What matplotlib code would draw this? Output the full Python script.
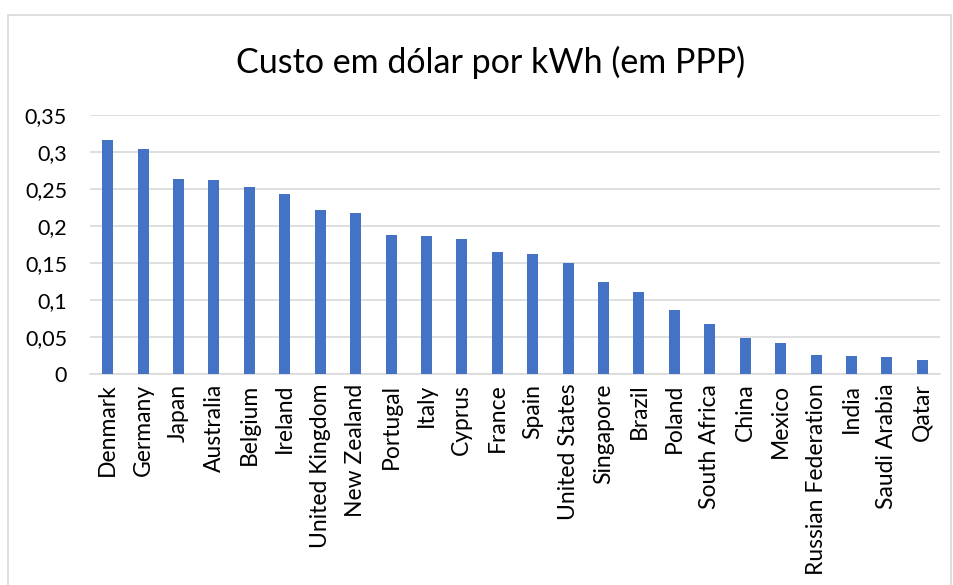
import matplotlib
matplotlib.use("Agg")
import matplotlib.pyplot as plt
import matplotlib.patches as mpatches
from matplotlib.ticker import MultipleLocator, FuncFormatter

countries = [
    "Denmark", "Germany", "Japan", "Australia", "Belgium", "Ireland",
    "United Kingdom", "New Zealand", "Portugal", "Italy", "Cyprus", "France",
    "Spain", "United States", "Singapore", "Brazil", "Poland", "South Africa",
    "China", "Mexico", "Russian Federation", "India", "Saudi Arabia", "Qatar",
]
cost_usd_kwh = [
    0.316, 0.304, 0.264, 0.262, 0.253, 0.243,
    0.221, 0.218, 0.188, 0.186, 0.183, 0.165,
    0.162, 0.150, 0.124, 0.111, 0.086, 0.068,
    0.049, 0.042, 0.026, 0.025, 0.023, 0.019,
]
title = "Custo em dólar por kWh (em PPP)"

plt.rcParams.update({"font.family": ["Lato", "DejaVu Sans"]})

fig = plt.figure(figsize=(9.54, 5.85), dpi=100)
ax = fig.add_axes([90 / 954, 1 - 374 / 585, 850 / 954, (374 - 115) / 585])

x = range(len(countries))
ax.bar(x, cost_usd_kwh, width=0.31, color="#4472C4", zorder=3)

ax.set_xlim(-0.5, len(countries) - 0.5)
ax.set_ylim(0, 0.35)
ax.yaxis.set_major_locator(MultipleLocator(0.05))
ax.yaxis.set_major_formatter(
    FuncFormatter(lambda v, _: "0" if abs(v) < 1e-9 else f"{v:.2f}".rstrip("0").replace(".", ","))
)
ax.grid(axis="y", color="#D9D9D9", linewidth=1.2, zorder=0)
for side in ("top", "right", "left"):
    ax.spines[side].set_visible(False)
ax.spines["bottom"].set_color("#D9D9D9")
ax.spines["bottom"].set_linewidth(1.2)
ax.tick_params(axis="both", length=0, labelsize=15.5, colors="black")
ax.tick_params(axis="y", pad=16.5)
ax.tick_params(axis="x", pad=7, labelsize=16.5)
ax.set_xticks(list(x))
ax.set_xticklabels(countries, rotation=90)

fig.text(0.514, 1 - 62 / 585, title, ha="center", va="center", fontsize=24.5)

# chart area border
fig.patches.append(mpatches.Rectangle(
    (8 / 954, -0.05), 943 / 954, 1.05 - 15 / 585,
    transform=fig.transFigure, fill=False, edgecolor="#D9D9D9", linewidth=1.2,
))

fig.savefig("out.png", dpi=100)
